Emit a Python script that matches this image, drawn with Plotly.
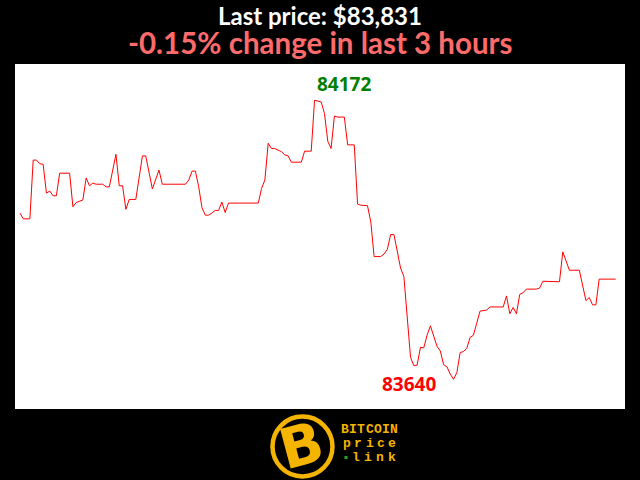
import plotly.graph_objects as go

# minutes from start of the 3-hour window, and BTC price (USD)
minutes = [0, 1, 3, 4, 5, 6, 7, 8, 9, 10, 11, 12, 15, 16, 17, 18, 19, 20, 21, 22,
           23, 25, 26, 27, 29, 30, 31, 32, 33, 35, 37, 38, 40, 42, 43, 50, 51, 52, 53, 54,
           55, 56, 57, 58, 59, 60, 61, 62, 63, 72, 73, 74, 75, 76, 77, 79, 80, 81, 82, 85,
           86, 88, 89, 91, 92, 93, 94, 95, 96, 98, 99, 101, 102, 103, 105, 106, 107, 109, 110, 111,
           112, 113, 114, 115, 116, 118, 119, 120, 121, 122, 123, 124, 126, 127, 128, 129, 130, 131, 132, 133,
           134, 135, 136, 137, 138, 139, 141, 142, 146, 147, 148, 149, 150, 151, 152, 153, 156, 157, 158, 159,
           160, 163, 164, 166, 169, 171, 172, 173, 174, 175, 180]
prices = [83957, 83946, 83946, 84058, 84058, 84051, 84050, 83995, 83999, 83990, 83990, 84033, 84033, 83969, 83977, 83980, 83982, 84024, 84009, 84014,
          84012, 84012, 84007, 84007, 84069, 84009, 84009, 83964, 83983, 83983, 84066, 84066, 84003, 84039, 84012, 84012, 84020, 84037, 84037, 84007,
          83967, 83953, 83953, 83957, 83962, 83962, 83978, 83958, 83976, 83976, 84004, 84020, 84090, 84080, 84080, 84074, 84068, 84066, 84054, 84054,
          84075, 84075, 84172, 84169, 84147, 84094, 84080, 84142, 84140, 84140, 84087, 84087, 83974, 83972, 83971, 83940, 83874, 83874, 83879, 83888,
          83916, 83916, 83887, 83852, 83836, 83682, 83666, 83667, 83701, 83700, 83724, 83742, 83703, 83694, 83668, 83664, 83650, 83640, 83653, 83691,
          83693, 83699, 83720, 83724, 83747, 83770, 83772, 83778, 83778, 83799, 83765, 83777, 83765, 83802, 83805, 83812, 83812, 83814, 83827, 83827,
          83826, 83826, 83883, 83848, 83848, 83790, 83796, 83782, 83782, 83831, 83831]

last_price = prices[-1]
change_pct = -0.15
hi = max(prices)
lo = min(prices)

fig = go.Figure()
fig.add_trace(go.Scatter(x=minutes, y=prices, mode="lines",
                         line=dict(color="#ff0000", width=1), hoverinfo="skip"))

fig.update_layout(
    width=640, height=480,
    paper_bgcolor="#000000", plot_bgcolor="#ffffff",
    margin=dict(l=15, r=15, t=64, b=71),
    showlegend=False,
    xaxis=dict(visible=False, range=[-1.5, 182.8], fixedrange=True),
    yaxis=dict(visible=False, range=[83583.4, 84241.2], fixedrange=True),
)


def px(x):
    return (x - 15) / 610


def py(y):
    return (409 - y) / 345


ann = []
ann.append(dict(text=f"<b>Last price: ${last_price:,}</b>", x=0.5, y=py(16), xref="paper", yref="paper",
                xanchor="center", yanchor="middle", showarrow=False,
                font=dict(family="Lato", size=24, color="#ffffff")))
ann.append(dict(text=f"<b>{change_pct:.2f}% change in last 3 hours</b>", x=0.5, y=py(42), xref="paper", yref="paper",
                xanchor="center", yanchor="middle", showarrow=False,
                font=dict(family="Lato", size=29.5, color="#ff6b6b")))
ann.append(dict(text=f"<b>{hi}</b>", x=97.9, y=84203, xref="x", yref="y",
                xanchor="center", yanchor="middle", showarrow=False,
                font=dict(family="Open Sans", size=19, color="#008000")))
ann.append(dict(text=f"<b>{lo}</b>", x=117.6, y=83632, xref="x", yref="y",
                xanchor="center", yanchor="middle", showarrow=False,
                font=dict(family="Open Sans", size=19, color="#ff0000")))

# logo
gold = "#f4b400"
ann.append(dict(text="<b>B</b>", x=px(301), y=py(446), xref="paper", yref="paper",
                xanchor="center", yanchor="middle", showarrow=False, textangle=-15,
                font=dict(family="DejaVu Sans", size=56, color=gold)))
for word, ycen, x_start, x_end in [("BITCOIN", 429, 341, 398), ("price", 443, 341, 398), ("link", 457, 350, 398)]:
    n = len(word)
    pitch = (x_end - x_start) / n
    for i, ch in enumerate(word):
        ann.append(dict(text=f"<b>{ch}</b>", x=px(x_start + pitch * (i + 0.5)), y=py(ycen),
                        xref="paper", yref="paper", xanchor="center", yanchor="middle", showarrow=False,
                        font=dict(family="Liberation Mono", size=13, color=gold)))
fig.update_layout(annotations=ann)

fig.add_shape(type="circle", xref="paper", yref="paper",
              x0=px(272.5), x1=px(332.5), y0=py(476.5), y1=py(416.5),
              line=dict(color=gold, width=4.5), fillcolor="rgba(0,0,0,0)")
fig.add_shape(type="rect", xref="paper", yref="paper",
              x0=px(344.5), x1=px(347.5), y0=py(459), y1=py(456),
              line=dict(width=0), fillcolor="#22aa22")

fig.write_html("out.html", config={"displayModeBar": False},
               post_script="document.body.style.margin='0';document.body.style.padding='0';")
